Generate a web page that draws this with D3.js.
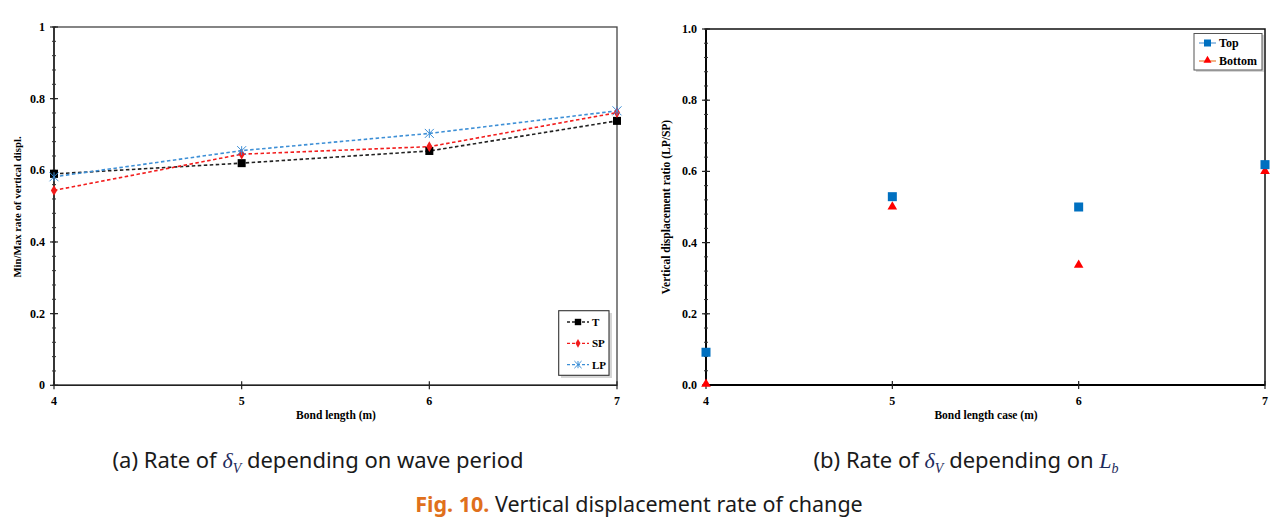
<!DOCTYPE html>
<html><head><meta charset="utf-8">
<script src="https://cdn.jsdelivr.net/npm/d3@7/dist/d3.min.js"></script>
<style>
body{margin:0;background:#fff;}
svg{display:block;}
.tk text{font-family:"Liberation Serif","Times New Roman",serif;font-weight:bold;font-size:12px;fill:#000;}
.ttl{font-family:"Liberation Serif","Times New Roman",serif;font-weight:bold;font-size:11.5px;fill:#000;}
.cap{font-family:"Noto Sans",sans-serif;font-size:22px;fill:#1a1a1a;}
</style></head><body>
<svg id="c" width="1286" height="530"></svg>
<script>
// ---------- data ----------
const bondLengths = [4, 5, 6, 7];
const seriesT  = [0.590, 0.620, 0.654, 0.738];
const seriesSP = [0.544, 0.645, 0.666, 0.761];
const seriesLP = [0.582, 0.655, 0.703, 0.766];
const seriesNamesA = ["T", "SP", "LP"];
const topRatio    = [0.092, 0.529, 0.500, 0.619];
const bottomRatio = [0.000, 0.498, 0.334, 0.598];
const seriesNamesB = ["Top", "Bottom"];
const yTicksA = [0, 0.2, 0.4, 0.6, 0.8, 1];
const yTicksB = [0, 0.2, 0.4, 0.6, 0.8, 1.0];
const xTicks = [4, 5, 6, 7];

const svg = d3.select("#c");

// ---------- panel (a) ----------
const xa = d3.scaleLinear().domain([4,7]).range([54,617]);
const ya = d3.scaleLinear().domain([0,1]).range([385.3,27]);
const ga = svg.append("g");
ga.append("rect").attr("x",xa(4)).attr("y",ya(1)).attr("width",xa(7)-xa(4)).attr("height",ya(0)-ya(1))
  .attr("fill","none").attr("stroke","#444").attr("stroke-width",1.3);

function yAxisTicks(g, x0, ys, ticks, fmt){
  const minor = d3.range(0, 1.0001, 0.04);
  g.selectAll(null).data(minor).join("line")
    .attr("x1",x0-2).attr("x2",x0+2).attr("y1",d=>ys(d)).attr("y2",d=>ys(d))
    .attr("stroke","#333").attr("stroke-width",1);
  const tg = g.append("g").attr("class","tk");
  tg.selectAll("line").data(ticks).join("line")
    .attr("x1",x0-4).attr("x2",x0+4).attr("y1",d=>ys(d)).attr("y2",d=>ys(d))
    .attr("stroke","#222").attr("stroke-width",1.2);
  tg.selectAll("text").data(ticks).join("text")
    .attr("x",x0-9).attr("y",d=>ys(d)+4).attr("text-anchor","end").text(fmt);
}
function xAxisTicks(g, xs, y0, ticks){
  const tg = g.append("g").attr("class","tk");
  tg.selectAll("line").data(ticks).join("line")
    .attr("x1",d=>xs(d)).attr("x2",d=>xs(d)).attr("y1",y0-4).attr("y2",y0+4)
    .attr("stroke","#222").attr("stroke-width",1.2);
  tg.selectAll("text").data(ticks).join("text")
    .attr("x",d=>xs(d)).attr("y",y0+20).attr("text-anchor","middle").text(d=>d);
}
// axis lines
ga.append("line").attr("x1",xa(4)).attr("x2",xa(4)).attr("y1",ya(0)).attr("y2",ya(1)).attr("stroke","#222").attr("stroke-width",1.6);
ga.append("line").attr("x1",xa(4)).attr("x2",xa(7)).attr("y1",ya(0)).attr("y2",ya(0)).attr("stroke","#222").attr("stroke-width",1.6);
yAxisTicks(ga, xa(4), ya, yTicksA, d=>d===0?"0":d===1?"1":d3.format(".1f")(d));
xAxisTicks(ga, xa, ya(0), xTicks);
ga.append("text").attr("class","ttl").attr("transform",`translate(21,207) rotate(-90)`)
  .attr("text-anchor","middle").style("font-size","10.8px").text("Min/Max rate of vertical displ.");
ga.append("text").attr("class","ttl").attr("x",336).attr("y",419).attr("text-anchor","middle").text("Bond length (m)");

const seriesA = [
  {name:"T", vals:seriesT, color:"#222", sym:"square"},
  {name:"SP", vals:seriesSP, color:"#f21c1c", sym:"diamond"},
  {name:"LP", vals:seriesLP, color:"#3d8fd6", sym:"cross"}
];
const lineA = d3.line().x((d,i)=>xa(bondLengths[i])).y(d=>ya(d));
function drawMarker(g, s, x, y, scale){
  scale = scale||1;
  if(s.sym==="square"){
    g.append("rect").attr("x",x-4*scale).attr("y",y-4*scale).attr("width",8*scale).attr("height",8*scale).attr("fill","#000");
  } else if(s.sym==="diamond"){
    g.append("path").attr("d",d3.symbol(d3.symbolDiamond, 34*scale*scale)()).attr("transform",`translate(${x},${y})`).attr("fill",s.color);
  } else {
    const r=4.5*scale;
    g.append("path").attr("d",`M${x-r},${y-r}L${x+r},${y+r}M${x-r},${y+r}L${x+r},${y-r}M${x},${y-r}L${x},${y+r}`)
      .attr("stroke",s.color).attr("stroke-width",1);
  }
}
seriesA.forEach(s=>{
  ga.append("path").attr("d",lineA(s.vals)).attr("fill","none").attr("stroke",s.color)
    .attr("stroke-width",1.6).attr("stroke-dasharray","3.5,2.5");
});
seriesA.forEach(s=>{
  s.vals.forEach((v,i)=>drawMarker(ga,s,xa(bondLengths[i]),ya(v)));
});
// legend (a)
const la = ga.append("g");
la.append("rect").attr("x",561).attr("y",313).attr("width",51).attr("height",65).attr("fill","#bbb").attr("opacity",0.6);
la.append("rect").attr("x",558.7).attr("y",310.7).attr("width",50.3).attr("height",64.6).attr("fill","#fff").attr("stroke","#333").attr("stroke-width",1.1);
seriesA.forEach((s,i)=>{
  const y = 322+i*21.3;
  la.append("line").attr("x1",567).attr("x2",589).attr("y1",y).attr("y2",y).attr("stroke",s.color).attr("stroke-width",1.3).attr("stroke-dasharray","3,2");
  drawMarker(la,s,578,y,0.8);
  la.append("text").attr("class","ttl").attr("x",592).attr("y",y+4).style("font-size","11px").text(s.name);
});

// ---------- panel (b) ----------
const xb = d3.scaleLinear().domain([4,7]).range([706,1265]);
const yb = d3.scaleLinear().domain([0,1]).range([385,29]);
const gb = svg.append("g");
gb.append("rect").attr("x",xb(4)).attr("y",yb(1)).attr("width",xb(7)-xb(4)).attr("height",yb(0)-yb(1))
  .attr("fill","none").attr("stroke","#111").attr("stroke-width",1.5);
gb.append("line").attr("x1",xb(4)).attr("x2",xb(4)).attr("y1",yb(0)).attr("y2",yb(1)).attr("stroke","#000").attr("stroke-width",1.8);
gb.append("line").attr("x1",xb(4)).attr("x2",xb(7)).attr("y1",yb(0)).attr("y2",yb(0)).attr("stroke","#000").attr("stroke-width",1.8);
yAxisTicks(gb, xb(4), yb, yTicksB, d=>d3.format(".1f")(d));
xAxisTicks(gb, xb, yb(0), xTicks);
gb.append("text").attr("class","ttl").attr("transform",`translate(670,${(yb(0)+yb(1))/2}) rotate(-90)`)
  .attr("text-anchor","middle").text("Vertical displacement ratio (LP/SP)");
gb.append("text").attr("class","ttl").attr("x",986).attr("y",419).attr("text-anchor","middle").text("Bond length case (m)");

const tri = d3.symbol(d3.symbolTriangle, 40)();
bottomRatio.forEach((v,i)=>{
  gb.append("path").attr("d",tri).attr("transform",`translate(${xb(bondLengths[i])},${yb(v)-1})`).attr("fill","#ff0000");
});
topRatio.forEach((v,i)=>{
  gb.append("rect").attr("x",xb(bondLengths[i])-4.5).attr("y",yb(v)-4.5).attr("width",9).attr("height",9).attr("fill","#0070c0");
});
// legend (b)
const lb = gb.append("g");
lb.append("rect").attr("x",1196).attr("y",35).attr("width",68).attr("height",37).attr("fill","#bbb").attr("opacity",0.6);
lb.append("rect").attr("x",1194).attr("y",33.5).attr("width",68).attr("height",36.5).attr("fill","#fff").attr("stroke","#555").attr("stroke-width",1);
lb.append("line").attr("x1",1199).attr("x2",1216).attr("y1",43).attr("y2",43).attr("stroke","#5b9bd5").attr("stroke-width",1.2);
lb.append("rect").attr("x",1204).attr("y",39.5).attr("width",7).attr("height",7).attr("fill","#0070c0");
lb.append("line").attr("x1",1199).attr("x2",1216).attr("y1",61).attr("y2",61).attr("stroke","#ed7d31").attr("stroke-width",1.2);
lb.append("path").attr("d",d3.symbol(d3.symbolTriangle,28)()).attr("transform","translate(1207.5,60.5)").attr("fill","#ff0000");
lb.append("text").attr("class","ttl").attr("x",1219).attr("y",47).style("font-size","12px").text(seriesNamesB[0]);
lb.append("text").attr("class","ttl").attr("x",1219).attr("y",65).style("font-size","12px").text(seriesNamesB[1]);

// ---------- captions ----------
function caption(x, y, parts, size){
  const t = svg.append("text").attr("class","cap").attr("x",x).attr("y",y).attr("text-anchor","middle");
  if(size) t.style("font-size",size+"px");
  parts.forEach(p=>{
    const ts = t.append("tspan").text(p.t);
    if(p.it){ ts.style("font-family","'Liberation Serif',serif").style("font-style","italic").style("fill","#1c2a5c"); }
    if(p.sub){ ts.attr("dy",5).style("font-size","14px"); }
    if(p.after){ ts.attr("dy",-5); }
    if(p.c){ ts.style("fill",p.c); }
    if(p.fw){ ts.style("font-weight",p.fw); }
  });
  return t;
}
caption(318, 468, [{t:"(a) Rate of "},{t:"δ",it:1},{t:"V",it:1,sub:1},{t:" depending on wave period",after:1}]);
caption(966, 468, [{t:"(b) Rate of "},{t:"δ",it:1},{t:"V",it:1,sub:1},{t:" depending on ",after:1},{t:"L",it:1},{t:"b",it:1,sub:1}]);
caption(639, 512, [{t:"Fig. 10.",c:"#e0701c",fw:"bold"},{t:" Vertical displacement rate of change"}], 21.5);
</script>
</body></html>
